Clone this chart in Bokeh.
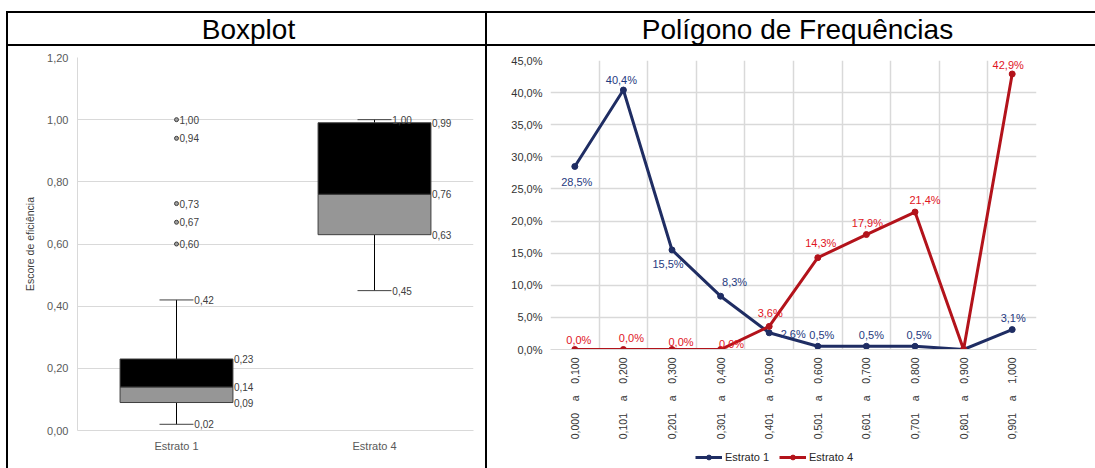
import math
from bokeh.plotting import figure
from bokeh.models import (ColumnDataSource, FactorRange, Range1d, FixedTicker,
                          CustomJSTickFormatter, Whisker, TeeHead, Label, Legend,
                          LegendItem, Spacer)
from bokeh.layouts import row, column
from bokeh.transform import dodge
from bokeh.core.properties import value
from bokeh.embed import file_html
from bokeh.resources import INLINE

# ---------------- data: boxplot ----------------
box_groups = ["Estrato 1", "Estrato 4"]
box_min = [0.02, 0.45]
box_q1 = [0.09, 0.63]
box_median = [0.14, 0.76]
box_q3 = [0.23, 0.99]
box_max = [0.42, 1.00]
outlier_groups = ["Estrato 1", "Estrato 1", "Estrato 1", "Estrato 1", "Estrato 1"]
outlier_values = [1.00, 0.94, 0.73, 0.67, 0.60]
box_y_ticks = [0.0, 0.2, 0.4, 0.6, 0.8, 1.0, 1.2]

# ---------------- data: frequency polygon ----------------
classes = ["0,000 a 0,100", "0,101 a 0,200", "0,201 a 0,300", "0,301 a 0,400",
           "0,401 a 0,500", "0,501 a 0,600", "0,601 a 0,700", "0,701 a 0,800",
           "0,801 a 0,900", "0,901 a 1,000"]
series_names = ["Estrato 1", "Estrato 4"]
estrato1_pct = [28.5, 40.4, 15.5, 8.3, 2.6, 0.5, 0.5, 0.5, 0.0, 3.1]
estrato4_pct = [0.0, 0.0, 0.0, 0.0, 3.6, 14.3, 17.9, 21.4, 0.0, 42.9]
pct_ticks = [0, 5, 10, 15, 20, 25, 30, 35, 40, 45]

# label placement (screen px offsets, None = no label)
e1_label_offsets = [(2, 16), (-2, -10), (-4, 14), (14, -14), (24, 1),
                    (4, -11), (5, -11), (4, -11), None, (1, -12)]
e4_label_offsets = [(4, -10), (8, -12), (9, -8), (11, -6), (1, -13),
                    (3, -15), (1, -12), (10, -12), None, (-4, -9)]

FONT = "Liberation Sans"
NAVY = "#1f2d63"
NAVY_TXT = "#1f3a80"
RED = "#b3131b"
RED_TXT = "#e0141e"
GRID = "#d9d9d9"

LEFT_W = 477
RIGHT_W = 608
HEAD_H = 31
CHART_H = 422
LEG_H = 22


def fmt2(v):
    return f"{v:.2f}".replace(".", ",")


def fmt_pct(v):
    return f"{v:.1f}".replace(".", ",") + "%"


def bare_figure(w, h, y_range=None):
    f = figure(width=w, height=h, x_range=Range1d(0, w),
               y_range=y_range if y_range is not None else Range1d(0, 1),
               output_backend="svg", toolbar_location=None, frame_align=False,
               min_border_top=0, min_border_bottom=0, min_border_left=0,
               min_border_right=0, border_fill_color="white",
               background_fill_color="white", outline_line_color=None,
               x_axis_location=None, y_axis_location=None)
    f.grid.visible = False
    return f


def header(text, w, cx):
    h = bare_figure(w, HEAD_H)
    h.add_layout(Label(x=cx, y=0.48, text=text, text_align="center",
                       text_baseline="middle", text_font=FONT,
                       text_font_size="28px", text_color="black"))
    return h


def hline(w):
    return Spacer(width=w, height=2, styles={"background-color": "black"})


# ---------------- boxplot figure ----------------
p1 = figure(width=LEFT_W, height=CHART_H, x_range=FactorRange(factors=box_groups),
            y_range=Range1d(0, 1.2), output_backend="svg", toolbar_location=None,
            frame_align=False,
            min_border_left=69, min_border_right=12, min_border_top=11,
            min_border_bottom=38, outline_line_color=None)

src = ColumnDataSource(dict(g=box_groups, lo=box_min, q1=box_q1, med=box_median,
                            q3=box_q3, hi=box_max))

p1.vbar(x="g", width=0.57, bottom="q1", top="med", source=src,
        fill_color="#969696", line_color="#3f3f3f", line_width=1)
p1.vbar(x="g", width=0.57, bottom="med", top="q3", source=src,
        fill_color="black", line_color="#3f3f3f", line_width=1)

w_up = Whisker(base="g", lower="q3", upper="hi", source=src, dimension="height",
               line_color="black", line_width=1,
               upper_head=TeeHead(size=34, line_color="#404040", line_width=1),
               lower_head=None)
w_dn = Whisker(base="g", lower="lo", upper="q1", source=src, dimension="height",
               line_color="black", line_width=1,
               lower_head=TeeHead(size=34, line_color="#404040", line_width=1),
               upper_head=None)
p1.add_layout(w_up)
p1.add_layout(w_dn)

# whisker end labels
wl_g, wl_v = [], []
for g, lo, hi in zip(box_groups, box_min, box_max):
    wl_g += [g, g]
    wl_v += [lo, hi]
wl_src = ColumnDataSource(dict(g=wl_g, v=wl_v, t=[fmt2(v) for v in wl_v]))
p1.text(x=dodge("g", 0.085, range=p1.x_range), y="v", text="t", source=wl_src,
        text_font=value(FONT), text_font_size="10px", text_color="#404040",
        text_align="left", text_baseline="middle", x_offset=1)

# box labels
bl_g, bl_v = [], []
for g, a, b, c in zip(box_groups, box_q1, box_median, box_q3):
    bl_g += [g, g, g]
    bl_v += [a, b, c]
bl_src = ColumnDataSource(dict(g=bl_g, v=bl_v, t=[fmt2(v) for v in bl_v]))
p1.text(x=dodge("g", 0.285, range=p1.x_range), y="v", text="t", source=bl_src,
        text_font=value(FONT), text_font_size="10px", text_color="#404040",
        text_align="left", text_baseline="middle", x_offset=1)

# outliers
out_src = ColumnDataSource(dict(g=outlier_groups, v=outlier_values,
                                t=[fmt2(v) for v in outlier_values]))
p1.scatter(x="g", y="v", source=out_src, size=4, marker="circle",
           line_color="#404040", fill_color="#a0a0a0", line_width=1)
p1.text(x="g", y="v", text="t", source=out_src, text_font=value(FONT),
        text_font_size="10px", text_color="#404040", text_align="left",
        text_baseline="middle", x_offset=3)

p1.yaxis.ticker = FixedTicker(ticks=box_y_ticks)
p1.ygrid.ticker = FixedTicker(ticks=box_y_ticks)
p1.yaxis.formatter = CustomJSTickFormatter(code="return tick.toFixed(2).replace('.', ',');")
p1.yaxis.axis_label = "Escore de eficiência"
p1.yaxis.axis_label_text_font_style = "normal"
p1.yaxis.axis_label_text_font = FONT
p1.yaxis.axis_label_text_font_size = "10.5px"
p1.yaxis.axis_label_text_color = "#404040"
p1.yaxis.axis_label_standoff = 8
for ax in (p1.xaxis, p1.yaxis):
    ax.axis_line_color = GRID
    ax.major_tick_line_color = None
    ax.minor_tick_line_color = None
    ax.major_tick_out = 0
    ax.major_tick_in = 0
    ax.major_label_text_font = FONT
    ax.major_label_text_font_size = "11px"
    ax.major_label_text_color = "#595959"
p1.yaxis.major_label_standoff = 9
p1.xaxis.major_label_standoff = 9
p1.ygrid.grid_line_color = GRID
p1.xgrid.grid_line_color = None

# ---------------- frequency polygon figure ----------------
n = len(classes)
xs = list(range(n))
p2 = figure(width=RIGHT_W, height=CHART_H - LEG_H, x_range=Range1d(-0.5, n - 0.5),
            y_range=Range1d(0, 45), output_backend="svg", toolbar_location=None,
            frame_align=False,
            min_border_left=63, min_border_right=59, min_border_top=14,
            min_border_bottom=97, outline_line_color=None)

nb = "\u00a0"
disp_classes = [c.replace(" a ", nb * 3 + " a " + nb * 3) for c in classes]
p2.xaxis.ticker = FixedTicker(ticks=xs)
p2.xaxis.major_label_overrides = {i: lbl for i, lbl in enumerate(disp_classes)}
p2.xaxis.major_label_orientation = math.pi / 2
p2.xgrid.ticker = FixedTicker(ticks=[i - 0.5 for i in range(n + 1)])
p2.yaxis.ticker = FixedTicker(ticks=pct_ticks)
p2.ygrid.ticker = FixedTicker(ticks=pct_ticks)
p2.yaxis.formatter = CustomJSTickFormatter(code="return tick.toFixed(1).replace('.', ',') + '%';")
for ax in (p2.xaxis, p2.yaxis):
    ax.major_tick_line_color = None
    ax.minor_tick_line_color = None
    ax.major_tick_out = 0
    ax.major_tick_in = 0
    ax.major_label_text_font = FONT
    ax.major_label_text_color = "#333333"
    ax.major_label_standoff = 8
p2.yaxis.major_label_text_font_size = "11px"
p2.xaxis.major_label_text_font_size = "10.5px"
p2.yaxis.axis_line_color = None
p2.xaxis.axis_line_color = GRID
p2.grid.grid_line_color = GRID
p2.grid.grid_line_width = 1.5

series = [estrato1_pct, estrato4_pct]
colors = [NAVY, RED]
for vals, col in zip(series, colors):
    p2.line(xs, vals, line_color=col, line_width=3)
    p2.scatter(xs, vals, size=6, color=col)


def label_source(vals, offsets):
    d = dict(x=[], y=[], t=[], dx=[], dy=[])
    for i, (v, o) in enumerate(zip(vals, offsets)):
        if o is None:
            continue
        d["x"].append(i)
        d["y"].append(v)
        d["t"].append(fmt_pct(v))
        d["dx"].append(o[0])
        d["dy"].append(o[1])
    return ColumnDataSource(d)


p2.text(x="x", y="y", text="t", x_offset="dx", y_offset="dy",
        source=label_source(estrato1_pct, e1_label_offsets),
        text_font=value(FONT), text_font_size="11px", text_color=NAVY_TXT,
        text_align="center", text_baseline="middle")
p2.text(x="x", y="y", text="t", x_offset="dx", y_offset="dy",
        source=label_source(estrato4_pct, e4_label_offsets),
        text_font=value(FONT), text_font_size="11px", text_color=RED_TXT,
        text_align="center", text_baseline="middle")

# ---------------- legend strip (below the polygon chart) ----------------
# The series are re-drawn here on a y range far above their values, so only
# the legend swatches are visible in this strip.
lg = bare_figure(RIGHT_W, LEG_H, y_range=Range1d(1000, 1001))
items = []
for name, vals, col in zip(series_names, series, colors):
    r_line = lg.line(xs, vals, line_color=col, line_width=3)
    r_dot = lg.scatter(xs, vals, size=6, color=col)
    items.append(LegendItem(label=name, renderers=[r_line, r_dot]))
legend = Legend(items=items, location=(208, 5), orientation="horizontal",
                glyph_width=27, glyph_height=12, label_standoff=3, spacing=10,
                padding=2, margin=0, border_line_color=None,
                background_fill_alpha=0, label_text_font=FONT,
                label_text_font_size="11px", label_text_color="#262626",
                label_height=12)
lg.add_layout(legend)

# ---------------- table layout ----------------
h1 = header("Boxplot", LEFT_W, 240)
h2 = header("Polígono de Frequências", RIGHT_W, 310)

vline_h = 2 + HEAD_H + 2 + CHART_H
left_col = column(hline(LEFT_W), h1, hline(LEFT_W), p1)
right_col = column(hline(RIGHT_W), h2, hline(RIGHT_W), p2, lg)
vl = dict(width=2, height=vline_h, styles={"background-color": "black"})
body = row(Spacer(width=6, height=vline_h), Spacer(**vl), left_col,
           Spacer(**vl), right_col)
layout = column(Spacer(width=1095, height=11), body)

open("out.html", "w").write(file_html(layout, INLINE))
